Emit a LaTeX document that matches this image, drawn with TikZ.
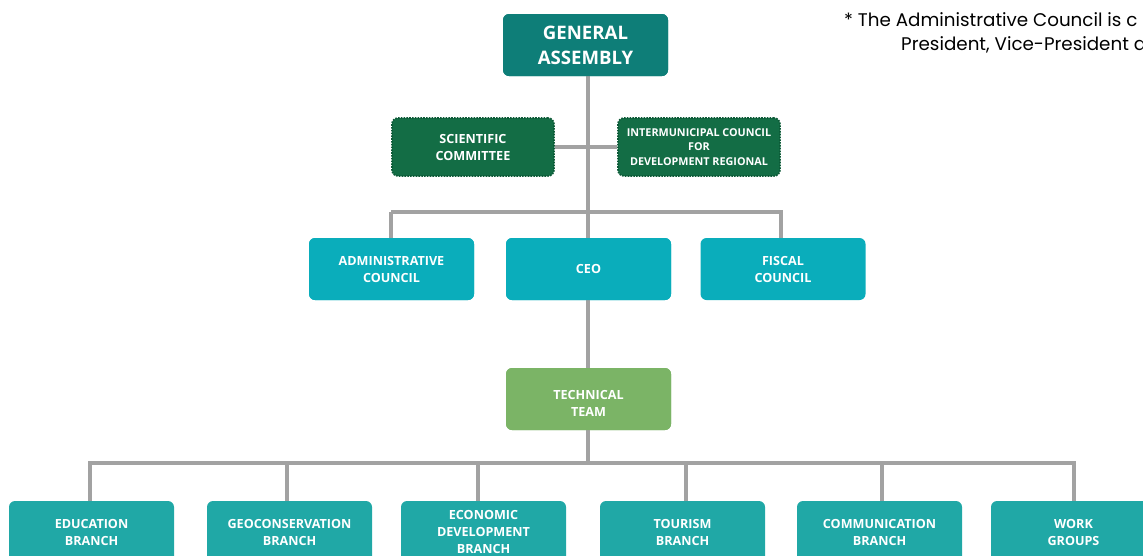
\documentclass[tikz,border=0pt]{standalone}
\usepackage{fontspec}
\setmainfont{Open Sans}
\newfontfamily\notefont{Poppins}
\definecolor{gaC}{HTML}{0E7E78}
\definecolor{dgC}{HTML}{136D45}
\definecolor{dgB}{HTML}{0C5A37}
\definecolor{cyC}{HTML}{0AADBB}
\definecolor{tgC}{HTML}{7BB466}
\definecolor{brC}{HTML}{20A8A6}
\definecolor{lnC}{HTML}{A2A2A2}
\tikzset{
  box/.style={rounded corners=6pt, minimum width=165pt, minimum height=62pt, text=white, align=center, font=\bfseries\fontsize{12.6}{17}\selectfont, inner sep=0pt},
  gabox/.style={box, fill=gaC, font=\bfseries\fontsize{18.6}{25}\selectfont},
  dotbox/.style={box, fill=dgC, draw=dgB, line width=1.6pt, dash pattern=on 1.6pt off 1.2pt, minimum width=162pt, minimum height=58pt},
  cybox/.style={box, fill=cyC},
  tbox/.style={box, fill=tgC},
  brbox/.style={box, fill=brC},
  link/.style={draw=lnC, line width=4pt},
  note/.style={anchor=west, font=\notefont\fontsize{18.3}{24}\selectfont, inner sep=0pt},
}
\begin{document}
\begin{tikzpicture}[x=1pt,y=-1pt]
\useasboundingbox (0,0) rectangle (1143,555);
\clip (0,0) rectangle (1143,555);
% nodes
\node[dotbox] (sc) at (473,147) {SCIENTIFIC\\COMMITTEE};
\node[dotbox, font=\bfseries\fontsize{10.8}{14.5}\selectfont] (im) at (699,147) {INTERMUNICIPAL COUNCIL\\FOR\\DEVELOPMENT REGIONAL};
\coordinate (jB) at (588,212);
\coordinate (jL) at (391,212);
\coordinate (jR) at (781,212);
\coordinate (fTop) at (781,245);
\coordinate (jC) at (588,463);
\coordinate (bL) at (90,463);
\coordinate (bR) at (1074,463);
\coordinate (d2) at (287,463);
\coordinate (d3) at (478,463);
\coordinate (d4) at (686,463);
\coordinate (d5) at (882,463);
\path (585.5,45) node[gabox] (ga) {} (391.5,269) node[cybox] (ad) {} (588.5,269) node[cybox] (ceo) {}
  (588.5,399) node[tbox] (tt) {};
\node[brbox] (b1) at (91.5,532) {EDUCATION\\BRANCH};
\node[brbox] (b2) at (289.5,532) {GEOCONSERVATION\\BRANCH};
\node[brbox] (b3) at (483.5,532) {ECONOMIC\\DEVELOPMENT\\BRANCH};
\node[brbox] (b4) at (682.5,532) {TOURISM\\BRANCH};
\node[brbox] (b5) at (879.5,532) {COMMUNICATION\\BRANCH};
\node[brbox] (b6) at (1073.5,532) {WORK\\GROUPS};
% connectors
\path[link] (ga.south -| jB) -- (jB);
\path[link] (sc.east) -- (im.west);
\path[link] (jL) -- (jR);
\path[link] (jL) -- (ad.north -| jL);
\path[link] (jB) -- (ceo.north -| jB);
\path[link, line cap=rect] (jR) -- (fTop);
\path[link] (ceo.south -| jB) -- (tt.north -| jB);
\path[link] (tt.south -| jC) -- (jC);
\path[link, line cap=rect] (bL) -- (bR);
\path[link] (bL) -- (b1.north -| bL);
\path[link] (d2) -- (b2.north -| d2);
\path[link] (d3) -- (b3.north -| d3);
\path[link] (d4) -- (b4.north -| d4);
\path[link] (d5) -- (b5.north -| d5);
\path[link] (bR) -- (b6.north -| bR);
% boxes drawn over the links
\node[gabox] (gaT) at (ga) {GENERAL\\ASSEMBLY};
\node[cybox] (adT) at (ad) {ADMINISTRATIVE\\COUNCIL};
\node[cybox] (ceoT) at (ceo) {CEO};
\node[cybox] (fc) at (783,269) {FISCAL\\COUNCIL};
\node[tbox] (ttB) at (tt) {};
\node[align=center, text=white, font=\bfseries\fontsize{12.6}{17}\selectfont, inner sep=0pt] (ttT) at (588.5,403) {TECHNICAL\\TEAM};
% note
\node[note] (n1) at (844,20) {* The Administrative Council is c};
\node[note] (n2) at (901,45) {President, Vice-President a};
\end{tikzpicture}
\end{document}
